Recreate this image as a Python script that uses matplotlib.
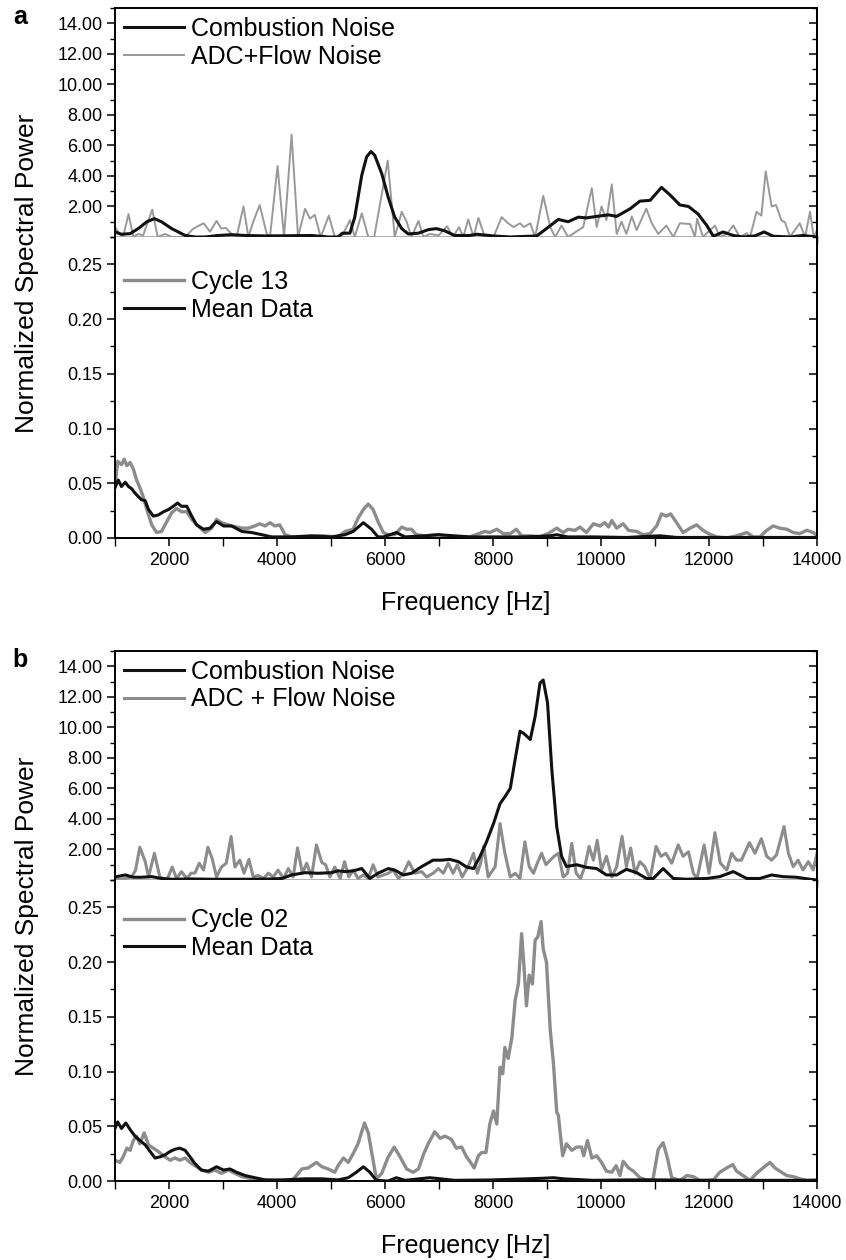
import matplotlib

matplotlib.use("Agg")
import matplotlib.pyplot as plt
from matplotlib.ticker import MultipleLocator, FixedLocator, FormatStrFormatter

# ---- panel a, top: combustion noise vs ADC + flow noise ----
a_comb_f = [1000, 1120, 1280, 1430, 1590, 1730, 1860, 2050, 2300, 2480,
            2670, 2910, 3160, 3410, 3780, 4150, 4640, 4950, 5130, 5210,
            5350, 5440, 5570, 5660, 5740, 5810, 5940, 6060, 6180, 6310,
            6430, 6620, 6800, 6950, 7110, 7290, 7570, 7700, 8010, 8320,
            8810, 8990, 9210, 9390, 9580, 9730, 9920, 10140, 10290, 10540,
            10720, 10910, 11120, 11280, 11460, 11620, 11800, 11960, 12080, 12260,
            12450, 12630, 12850, 13020, 13190, 13500, 13740, 14000]
a_comb_p = [0.33, 0.18, 0.22, 0.55, 1.0, 1.2, 1.0, 0.55, 0.1, 0.0,
            0.0, 0.1, 0.15, 0.1, 0.07, 0.08, 0.1, 0.0, 0.0, 0.25,
            0.25, 1.3, 4.05, 5.25, 5.6, 5.35, 4.15, 2.6, 1.3, 0.55,
            0.2, 0.25, 0.48, 0.55, 0.4, 0.1, 0.1, 0.18, 0.07, 0.0,
            0.07, 0.55, 1.15, 1.0, 1.3, 1.25, 1.35, 1.45, 1.35, 1.85,
            2.35, 2.4, 3.25, 2.75, 2.1, 2.0, 1.5, 0.75, 0.05, 0.33,
            0.1, 0.0, 0.07, 0.33, 0.05, 0.0, 0.1, 0.0]

a_adc_f = [1000, 1090, 1150, 1250, 1340, 1430, 1520, 1690, 1790, 1930,
           2050, 2300, 2450, 2640, 2760, 2880, 2970, 3050, 3160, 3250,
           3380, 3470, 3560, 3680, 3810, 3870, 4010, 4130, 4270, 4390,
           4520, 4610, 4700, 4810, 4960, 5070, 5210, 5350, 5440, 5570,
           5690, 5800, 6050, 6180, 6310, 6400, 6490, 6620, 6710, 6830,
           6990, 7150, 7260, 7370, 7450, 7540, 7640, 7730, 7850, 8010,
           8160, 8280, 8380, 8500, 8570, 8690, 8780, 8930, 9060, 9150,
           9270, 9390, 9520, 9670, 9830, 9920, 10010, 10100, 10200, 10290,
           10380, 10470, 10570, 10660, 10780, 10840, 10940, 11060, 11210, 11340,
           11460, 11650, 11740, 11780, 11890, 12110, 12200, 12330, 12450, 12570,
           12700, 12760, 12880, 12970, 13050, 13160, 13240, 13340, 13410, 13500,
           13680, 13780, 13870, 13940, 14000]
a_adc_p = [0.65, 0.2, 0.0, 1.5, 0.0, 0.2, 0.1, 1.8, 0.0, 0.2,
           0.0, 0.0, 0.55, 0.9, 0.35, 1.05, 0.55, 0.6, 0.2, 0.0,
           2.0, 0.0, 1.0, 2.1, 0.2, 0.0, 4.65, 0.0, 6.7, 0.0,
           1.85, 1.2, 1.45, 0.0, 1.4, 0.0, 0.1, 1.1, 0.0, 1.55,
           0.0, 0.0, 5.0, 0.0, 1.65, 1.0, 0.0, 1.05, 0.0, 0.2,
           0.1, 0.7, 0.0, 0.65, 0.0, 1.15, 0.0, 1.25, 0.0, 0.0,
           1.3, 0.9, 0.65, 0.9, 0.65, 0.9, 0.0, 2.7, 0.65, 0.0,
           0.75, 0.0, 0.3, 0.65, 3.2, 0.65, 2.0, 1.1, 3.45, 0.2,
           1.0, 0.2, 1.35, 0.45, 1.4, 1.85, 0.9, 0.2, 0.75, 0.0,
           0.9, 0.85, 0.0, 1.2, 0.0, 0.75, 0.0, 0.2, 0.75, 0.0,
           0.25, 0.0, 1.65, 1.4, 4.3, 2.0, 2.1, 1.1, 0.95, 0.0,
           0.9, 0.0, 1.65, 0.0, 0.45]

# ---- panel a, bottom: cycle 13 vs mean data ----
a_cyc_f = [1000, 1050, 1120, 1170, 1220, 1280, 1340, 1400, 1460, 1520,
           1590, 1680, 1770, 1860, 1960, 2050, 2140, 2230, 2330, 2420,
           2540, 2670, 2790, 2880, 2970, 3160, 3350, 3470, 3590, 3680,
           3780, 3870, 3960, 4050, 4150, 4270, 4520, 4830, 5130, 5260,
           5410, 5500, 5600, 5690, 5780, 5870, 5970, 6060, 6180, 6310,
           6400, 6490, 6580, 6740, 6990, 7290, 7570, 7850, 7940, 8070,
           8190, 8320, 8430, 8530, 8690, 8870, 9020, 9180, 9300, 9390,
           9520, 9610, 9730, 9860, 9980, 10070, 10140, 10200, 10290, 10410,
           10510, 10660, 10780, 10910, 11030, 11120, 11210, 11290, 11400, 11520,
           11650, 11770, 11890, 11990, 12140, 12330, 12510, 12700, 12820, 12940,
           13070, 13190, 13310, 13440, 13560, 13680, 13810, 13930, 14000]
a_cyc_p = [0.047, 0.070, 0.067, 0.072, 0.066, 0.069, 0.063, 0.053, 0.046, 0.038,
           0.026, 0.012, 0.005, 0.006, 0.015, 0.023, 0.027, 0.024, 0.024, 0.017,
           0.011, 0.005, 0.009, 0.017, 0.014, 0.011, 0.009, 0.009, 0.011, 0.013,
           0.011, 0.014, 0.011, 0.012, 0.003, 0.001, 0.001, 0.002, 0.001, 0.006,
           0.008, 0.018, 0.026, 0.031, 0.026, 0.015, 0.005, 0.003, 0.003, 0.010,
           0.008, 0.008, 0.003, 0.002, 0.003, 0.001, 0.001, 0.006, 0.005, 0.008,
           0.004, 0.004, 0.008, 0.002, 0.002, 0.001, 0.004, 0.009, 0.005, 0.008,
           0.007, 0.010, 0.005, 0.013, 0.011, 0.014, 0.010, 0.016, 0.009, 0.013,
           0.007, 0.006, 0.003, 0.004, 0.011, 0.022, 0.020, 0.022, 0.014, 0.005,
           0.009, 0.012, 0.007, 0.004, 0.001, 0.000, 0.002, 0.005, 0.001, 0.001,
           0.007, 0.011, 0.009, 0.008, 0.005, 0.004, 0.007, 0.005, 0.002]

a_mean_f = [1000, 1060, 1120, 1190, 1250, 1310, 1370, 1430, 1490, 1560,
            1620, 1710, 1800, 1900, 1990, 2080, 2160, 2230, 2330, 2410,
            2510, 2640, 2760, 2880, 3010, 3160, 3350, 3530, 3720, 3900,
            4270, 4640, 5010, 5260, 5410, 5600, 5750, 5870, 5970, 6210,
            6370, 6740, 6990, 7570, 8000, 8600, 9060, 9180, 9380, 9860,
            10470, 11090, 11400, 12330, 12940, 14000]
a_mean_p = [0.046, 0.053, 0.047, 0.051, 0.047, 0.045, 0.041, 0.038, 0.035, 0.034,
            0.026, 0.020, 0.021, 0.024, 0.026, 0.029, 0.032, 0.029, 0.029, 0.021,
            0.012, 0.008, 0.009, 0.015, 0.011, 0.011, 0.006, 0.005, 0.003, 0.001,
            0.001, 0.002, 0.001, 0.003, 0.006, 0.014, 0.008, 0.001, 0.001, 0.005,
            0.001, 0.002, 0.003, 0.001, 0.001, 0.001, 0.002, 0.003, 0.001, 0.001,
            0.0005, 0.002, 0.0005, 0.0005, 0.0005, 0.0005]

# ---- panel b, top ----
b_comb_f = [1000, 1190, 1340, 1490, 1680, 1860, 2050, 2420, 2790, 3160,
            3530, 3900, 4090, 4270, 4520, 4760, 5010, 5130, 5260, 5410,
            5570, 5720, 5870, 6060, 6180, 6340, 6490, 6680, 6890, 7050,
            7200, 7360, 7510, 7640, 7760, 7880, 8010, 8130, 8220, 8320,
            8410, 8500, 8570, 8690, 8780, 8870, 8930, 9010, 9090, 9180,
            9270, 9360, 9550, 9730, 9920, 10100, 10290, 10470, 10660, 10840,
            10970, 11150, 11340, 11590, 11960, 12200, 12450, 12700, 12940, 13160,
            13370, 13620, 13870, 14000]
b_comb_p = [0.2, 0.33, 0.18, 0.18, 0.22, 0.1, 0.05, 0.07, 0.05, 0.05,
            0.05, 0.07, 0.1, 0.33, 0.48, 0.44, 0.48, 0.6, 0.55, 0.6,
            0.75, 0.1, 0.44, 0.75, 0.65, 0.33, 0.44, 0.88, 1.3, 1.3,
            1.35, 1.2, 0.85, 0.75, 1.55, 2.5, 3.7, 5.0, 5.45, 6.0,
            7.9, 9.75, 9.6, 9.2, 10.7, 12.9, 13.1, 11.6, 7.2, 3.5,
            1.55, 0.88, 1.0, 0.83, 0.75, 0.33, 0.33, 0.7, 0.48, 0.1,
            0.1, 0.75, 0.1, 0.05, 0.1, 0.22, 0.55, 0.1, 0.1, 0.33,
            0.22, 0.18, 0.05, 0.0]

b_adc_f = [1000, 1190, 1310, 1380, 1460, 1560, 1620, 1730, 1830, 1960,
           2060, 2140, 2230, 2330, 2410, 2480, 2560, 2640, 2720, 2800,
           2880, 2970, 3060, 3150, 3220, 3310, 3390, 3480, 3560, 3650,
           3750, 3840, 3930, 4020, 4120, 4210, 4300, 4380, 4470, 4550,
           4640, 4730, 4830, 4900, 4980, 5070, 5170, 5250, 5330, 5410,
           5500, 5600, 5690, 5780, 5870, 5970, 6060, 6150, 6250, 6340,
           6440, 6550, 6680, 6770, 6890, 6990, 7080, 7170, 7260, 7340,
           7430, 7540, 7640, 7710, 7770, 7830, 7910, 8040, 8130, 8220,
           8320, 8410, 8500, 8590, 8670, 8750, 8820, 8900, 8980, 9060,
           9130, 9210, 9300, 9380, 9460, 9540, 9620, 9700, 9780, 9860,
           9930, 10010, 10100, 10200, 10290, 10390, 10470, 10550, 10630, 10720,
           10810, 10910, 11020, 11110, 11200, 11310, 11430, 11520, 11620, 11710,
           11780, 11910, 12000, 12110, 12210, 12330, 12420, 12510, 12600, 12750,
           12850, 12970, 13070, 13160, 13250, 13390, 13470, 13560, 13650, 13740,
           13840, 13930, 14000]
b_adc_p = [0.0, 0.1, 0.2, 0.65, 2.15, 1.2, 0.2, 1.75, 0.2, 0.0,
           0.85, 0.1, 0.55, 0.1, 0.45, 0.45, 1.1, 0.65, 2.15, 1.4,
           0.2, 0.85, 1.1, 2.85, 0.85, 1.3, 0.45, 1.35, 0.2, 0.3,
           0.1, 0.45, 0.2, 0.65, 0.1, 0.75, 0.2, 2.1, 0.45, 1.1,
           0.2, 2.3, 1.15, 1.0, 0.2, 0.85, 0.1, 1.2, 0.2, 0.65,
           0.1, 0.33, 0.1, 1.0, 0.2, 0.33, 0.44, 0.65, 0.1, 0.44,
           1.2, 0.44, 0.55, 0.2, 0.44, 0.75, 0.44, 1.1, 0.44, 1.0,
           0.2, 0.88, 1.75, 0.44, 1.1, 2.2, 0.2, 0.88, 3.7, 1.75,
           0.2, 0.44, 0.1, 2.5, 0.88, 0.44, 1.1, 1.75, 1.0, 1.3,
           1.55, 1.75, 0.2, 0.44, 2.4, 0.44, 0.1, 0.88, 2.2, 1.3,
           2.6, 0.66, 1.55, 0.2, 0.88, 2.85, 0.88, 2.1, 0.44, 1.2,
           0.88, 0.1, 2.2, 1.55, 1.75, 1.1, 2.3, 1.55, 1.85, 0.44,
           0.1, 2.3, 0.44, 3.1, 1.1, 0.66, 1.75, 1.3, 1.3, 2.45,
           1.75, 2.7, 1.55, 1.3, 1.65, 3.5, 1.75, 0.88, 1.3, 0.66,
           1.2, 0.66, 1.75]

# ---- panel b, bottom: cycle 02 vs mean data ----
b_cyc_f = [1000, 1090, 1150, 1220, 1280, 1340, 1400, 1460, 1540, 1620,
           1710, 1800, 1930, 2020, 2110, 2200, 2300, 2390, 2480, 2600,
           2730, 2850, 2970, 3100, 3220, 3350, 3530, 3720, 4020, 4270,
           4360, 4460, 4580, 4730, 4830, 4950, 5070, 5130, 5230, 5320,
           5410, 5500, 5620, 5690, 5750, 5840, 5940, 6050, 6170, 6280,
           6400, 6520, 6620, 6710, 6800, 6920, 7020, 7110, 7230, 7320,
           7420, 7510, 7570, 7650, 7730, 7790, 7870, 7940, 8010, 8070,
           8130, 8180, 8220, 8280, 8350, 8410, 8470, 8530, 8570, 8620,
           8670, 8730, 8780, 8830, 8890, 8930, 8990, 9060, 9120, 9180,
           9210, 9290, 9360, 9460, 9550, 9640, 9680, 9750, 9830, 9920,
           10010, 10100, 10200, 10280, 10350, 10410, 10510, 10600, 10720, 10840,
           10960, 11060, 11150, 11230, 11310, 11460, 11590, 11710, 11830, 12080,
           12200, 12330, 12440, 12510, 12630, 12760, 12880, 13000, 13130, 13220,
           13310, 13440, 13560, 13680, 13810, 14000]
b_cyc_p = [0.019, 0.017, 0.022, 0.030, 0.028, 0.037, 0.041, 0.034, 0.044, 0.033,
           0.030, 0.027, 0.022, 0.019, 0.021, 0.019, 0.021, 0.017, 0.014, 0.010,
           0.008, 0.010, 0.007, 0.010, 0.007, 0.004, 0.002, 0.001, 0.0, 0.0,
           0.005, 0.011, 0.012, 0.017, 0.013, 0.011, 0.008, 0.014, 0.021, 0.017,
           0.025, 0.034, 0.053, 0.044, 0.027, 0.002, 0.007, 0.021, 0.031, 0.022,
           0.011, 0.008, 0.011, 0.024, 0.034, 0.045, 0.039, 0.041, 0.038, 0.030,
           0.031, 0.022, 0.018, 0.012, 0.023, 0.026, 0.026, 0.052, 0.064, 0.052,
           0.104, 0.098, 0.122, 0.112, 0.131, 0.165, 0.180, 0.226, 0.199, 0.160,
           0.188, 0.180, 0.220, 0.223, 0.237, 0.212, 0.200, 0.138, 0.107, 0.063,
           0.060, 0.023, 0.034, 0.028, 0.031, 0.031, 0.023, 0.037, 0.021, 0.023,
           0.017, 0.009, 0.008, 0.014, 0.005, 0.018, 0.012, 0.009, 0.003, 0.001,
           0.001, 0.029, 0.035, 0.021, 0.003, 0.0005, 0.005, 0.004, 0.0005, 0.001,
           0.008, 0.012, 0.015, 0.009, 0.005, 0.0005, 0.007, 0.012, 0.017, 0.012,
           0.009, 0.005, 0.004, 0.002, 0.0005, 0.001]

b_mean_f = [1000, 1050, 1120, 1200, 1280, 1370, 1460, 1560, 1650, 1740,
            1830, 1930, 2020, 2110, 2200, 2300, 2390, 2480, 2600, 2730,
            2880, 3010, 3130, 3250, 3410, 3590, 3780, 4090, 4520, 4830,
            5130, 5320, 5470, 5600, 5720, 5840, 6060, 6210, 6370, 6830,
            7290, 8000, 8620, 8930, 9120, 9300, 9860, 10500, 11090, 11710,
            12500, 14000]
b_mean_p = [0.048, 0.054, 0.048, 0.053, 0.047, 0.041, 0.037, 0.033, 0.027, 0.021,
            0.022, 0.024, 0.027, 0.029, 0.030, 0.028, 0.022, 0.016, 0.010, 0.009,
            0.013, 0.010, 0.011, 0.008, 0.005, 0.003, 0.001, 0.001, 0.002, 0.002,
            0.001, 0.003, 0.008, 0.013, 0.008, 0.0006, 0.0, 0.003, 0.0006, 0.003,
            0.0006, 0.001, 0.002, 0.0025, 0.003, 0.002, 0.0006, 0.001, 0.001, 0.0006,
            0.0006, 0.0006]

BLACK = "#111111"
GREY = "#8c8c8c"
LIGHT = "#999999"

plt.rcParams["font.family"] = ["Liberation Sans", "DejaVu Sans"]

LEFT, WIDTH = 115 / 846, 702 / 846


def style_common(ax, major_y, minor_y, fmt):
    ax.set_xlim(1000, 14000)
    ax.yaxis.set_major_locator(FixedLocator(major_y))
    ax.yaxis.set_minor_locator(MultipleLocator(minor_y))
    ax.yaxis.set_major_formatter(FormatStrFormatter(fmt))
    ax.tick_params(axis="y", which="major", direction="out", length=6, width=1.1,
                   labelsize=13, pad=3, right=False)
    ax.tick_params(axis="y", which="minor", direction="out", length=3.5, width=1.0,
                   right=False)
    for s in ax.spines.values():
        s.set_linewidth(1.4)
    # inward ticks on the right-hand spine
    sec = ax.secondary_yaxis("right")
    sec.yaxis.set_major_locator(FixedLocator(major_y))
    sec.yaxis.set_minor_locator(MultipleLocator(minor_y))
    sec.tick_params(which="major", direction="in", length=6, width=1.1, labelright=False)
    sec.tick_params(which="minor", direction="in", length=3.5, width=1.0)
    sec.spines["right"].set_linewidth(1.4)


def draw_panel(letter, y_top_px, comb_f, comb_p, adc_f, adc_p, adc_label, adc_lw,
               cyc_f, cyc_p, cyc_label, mean_f, mean_p, leg2_y):
    fig_h = 1260
    up_bot = y_top_px + 229
    lo_bot = up_bot + 301
    ax1 = fig.add_axes([LEFT, 1 - up_bot / fig_h, WIDTH, 229 / fig_h])
    ax2 = fig.add_axes([LEFT, 1 - lo_bot / fig_h, WIDTH, 301 / fig_h])

    # upper: combustion noise against ADC + flow noise
    ax1.plot(adc_f, adc_p, color=GREY if adc_lw > 1.6 else LIGHT, lw=adc_lw,
             label=adc_label, zorder=2)
    ax1.plot(comb_f, comb_p, color=BLACK, lw=2.2, label="Combustion Noise", zorder=3)
    ax1.set_ylim(0, 15)
    style_common(ax1, [2, 4, 6, 8, 10, 12, 14], 1, "%.2f")
    ax1.xaxis.set_major_locator(MultipleLocator(500))
    ax1.tick_params(axis="x", direction="out", length=5, width=1.0, labelbottom=False)
    ax1.spines["bottom"].set_color(LIGHT)
    ax1.spines["bottom"].set_linewidth(1.8)
    h, l = ax1.get_legend_handles_labels()
    ax1.legend(h[::-1], l[::-1], loc="upper left", bbox_to_anchor=(0, 1),
               frameon=False, fontsize=18, handlelength=2.4, handletextpad=0.3,
               labelspacing=0.15, borderpad=0.35, borderaxespad=0)

    # lower: single cycle against the mean
    ax2.plot(cyc_f, cyc_p, color=GREY, lw=2.4, label=cyc_label, zorder=2)
    ax2.plot(mean_f, mean_p, color=BLACK, lw=2.2, label="Mean Data", zorder=3)
    ax2.set_ylim(0, 0.275)
    style_common(ax2, [0, 0.05, 0.10, 0.15, 0.20, 0.25], 0.025, "%.2f")
    ax2.xaxis.set_major_locator(MultipleLocator(2000))
    ax2.xaxis.set_minor_locator(MultipleLocator(1000))
    ax2.tick_params(axis="x", which="major", direction="out", length=6, width=1.1,
                    labelsize=13, pad=4)
    ax2.tick_params(axis="x", which="minor", direction="out", length=6, width=1.0)
    ax2.spines["top"].set_visible(False)
    ax2.legend(loc="upper left", bbox_to_anchor=(0, leg2_y), frameon=False,
               fontsize=18, handlelength=2.4, handletextpad=0.3,
               labelspacing=0.15, borderpad=0.35, borderaxespad=0)
    ax2.set_xlabel("Frequency [Hz]", fontsize=18, labelpad=16)

    mid = (y_top_px + lo_bot) / 2
    fig.text(27 / 846, 1 - mid / fig_h, "Normalized Spectral Power", rotation=90,
             ha="center", va="center", fontsize=19)
    fig.text(20 / 846, 1 - (y_top_px + 9) / fig_h, letter, ha="center", va="center",
             fontsize=18, fontweight="bold")


fig = plt.figure(figsize=(8.46, 12.6), dpi=100)

draw_panel("a", 8, a_comb_f, a_comb_p, a_adc_f, a_adc_p, "ADC+Flow Noise", 1.4,
           a_cyc_f, a_cyc_p, "Cycle 13", a_mean_f, a_mean_p, 0.92)
draw_panel("b", 651, b_comb_f, b_comb_p, b_adc_f, b_adc_p, "ADC + Flow Noise", 2.2,
           b_cyc_f, b_cyc_p, "Cycle 02", b_mean_f, b_mean_p, 0.935)

fig.savefig("out.png", dpi=100)
